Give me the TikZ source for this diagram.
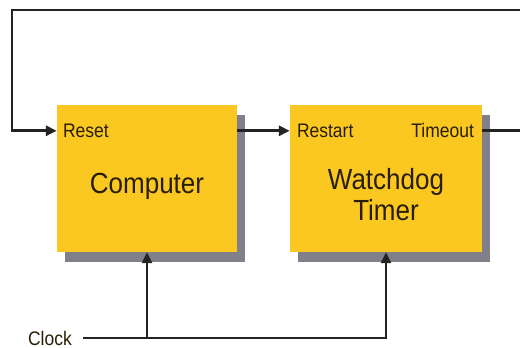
\documentclass[tikz,border=0pt]{standalone}
\usepackage{fontspec}
\setmainfont{Liberation Sans}
\usetikzlibrary{arrows.meta,positioning,shadows,calc}

\definecolor{boxyellow}{RGB}{250,200,32}
\definecolor{boxshadow}{RGB}{128,128,138}
\definecolor{wiregray}{RGB}{35,35,35}
\definecolor{labeltext}{RGB}{40,30,5}

\tikzset{
    block/.style={rectangle, fill=boxyellow, minimum height=147pt,
        drop shadow={shadow xshift=8pt, shadow yshift=-10pt, opacity=1, fill=boxshadow}},
    bigtext/.style={text=labeltext, font=\fontsize{26}{30}\selectfont, align=center, inner sep=0pt,
        yscale=1.12, transform shape},
    port/.style={text=labeltext, font=\fontsize{17.5}{20}\selectfont, inner sep=0pt,
        yscale=1.12, transform shape},
    wire/.style={draw=wiregray, line width=2.8pt},
}

\begin{document}
\begin{tikzpicture}[x=1pt, y=-1pt, >={Triangle[length=11pt,width=10pt]}]
    \useasboundingbox (0,0) rectangle (520,348);

    \node[block, minimum width=180pt]  (comp)  at (147,178.5)  {};
    \node[block, minimum width=192pt]  (wd)    at (386,178.5)  {};

    \node[bigtext]  (complabel)  at ($(comp.center)+(0,8)$)  {Computer};
    \node[bigtext]  (wdlabel)    at ($(wd.center)+(0,16)$)   {Watchdog\\[-2pt]Timer};

    \node[port, anchor=west]  (reset)    at ($(comp.north west)+(6,26)$)  {Reset};
    \node[port, anchor=west]  (restart)  at ($(wd.north west)+(7,26)$)    {Restart};
    \node[port, anchor=east]  (timeout)  at ($(wd.north east)+(-8,26)$)   {Timeout};

    \coordinate (loopNE) at (530,10);
    \coordinate (loopNW) at (12,10);
    \coordinate (clkin)  at (83,338);
    \node[port, left=11pt of clkin]  (clock)  {Clock};

    \draw[->, wire]  (comp.east |- restart) -- (wd.west |- restart);
    \draw[->, wire]  (wd.east |- timeout) -| (loopNE) -- (loopNW) |- (comp.west |- reset);
    \draw[->, wire]  (clkin) -| (wd.south);
    \draw[->, wire]  (comp.south |- clkin) -- (comp.south);

\end{tikzpicture}
\end{document}
